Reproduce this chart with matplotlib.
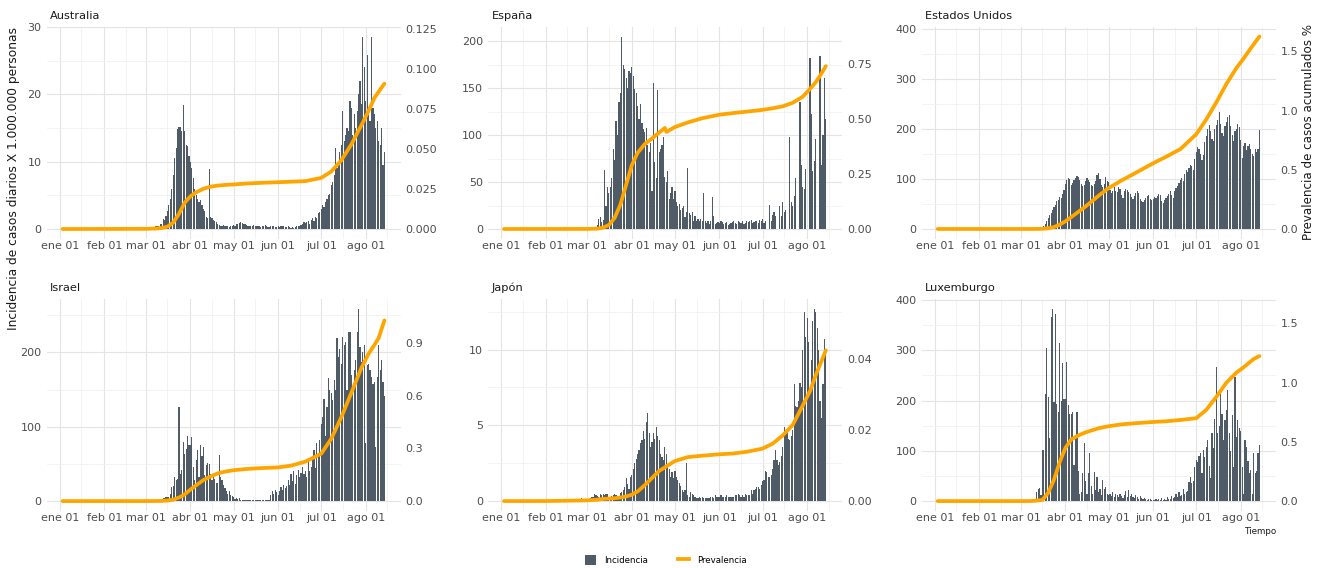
import matplotlib
matplotlib.use("Agg")
import matplotlib.pyplot as plt
import numpy as np
import pandas as pd
from matplotlib.patches import Patch
from matplotlib.lines import Line2D

# ---------------------------------------------------------------- data
# daily incidence (cases per 1.000.000 people), 2020-01-03 .. 2020-08-14
START, END = "2020-01-03", "2020-08-14"

JAN_ZERO = [0] * 29
FEB_ZERO = [0] * 29

inc_australia = (
    JAN_ZERO + FEB_ZERO
    + [0.1, 0.1, 0.1, 0.2, 0.2, 0.3, 0.2, 0.4, 0.5, 0.4, 0.8, 0.7, 1.5, 1.4, 2.0, 2.6, 3.5, 4.5, 6.0, 8.0,
       10.5, 12.0, 14.8, 15.2, 15.2, 14.5, 18.4, 14.5, 12.5, 12.3, 10.8]
    + [10.0, 9.0, 7.6, 6.0, 5.0, 4.5, 4.0, 4.3, 3.6, 3.0, 2.6, 1.8, 1.6, 8.9, 1.8, 1.6, 1.4, 1.2, 1.0, 0.8,
       0.6, 0.5, 0.5, 0.6, 0.4, 0.4, 0.5, 0.3, 0.5, 0.4]
    + [0.6, 0.5, 0.7, 0.8, 0.9, 1.0, 0.9, 0.8, 0.7, 0.6, 0.5, 0.4, 0.5, 0.4, 0.6, 0.5, 0.4, 0.5, 0.4, 0.3,
       0.4, 0.5, 0.6, 0.4, 0.3, 0.3, 0.4, 0.5, 0.4, 0.3, 0.3]
    + [0.4, 0.3, 0.4, 0.5, 0.4, 0.3, 0.3, 0.4, 0.3, 0.2, 0.3, 0.2, 0.3, 0.4, 0.5, 0.5, 0.6, 0.8, 1.0, 0.9,
       1.0, 1.2, 0.8, 1.4, 1.6, 1.2, 1.8, 1.6, 2.4, 2.5]
    + [3.0, 3.5, 3.2, 4.0, 4.5, 5.0, 5.2, 6.5, 7.0, 8.0, 12.0, 9.0, 10.0, 11.5, 12.5, 17.5, 13.0, 14.0, 15.0, 14.5,
       19.0, 18.0, 14.0, 17.0, 15.0, 17.5, 20.0, 22.0, 18.5, 28.5, 24.0]
    + [19.0, 25.9, 17.0, 16.0, 28.5, 18.0, 17.0, 15.0, 16.0, 13.0, 12.5, 15.0, 9.5, 11.5]
)

inc_espana = (
    JAN_ZERO + FEB_ZERO
    + [0.5, 0.6, 0.6, 1, 1.5, 2, 2.5, 4, 11, 13, 7, 10, 63, 25, 45, 38, 45, 54, 85, 73,
       115, 100, 135, 145, 205, 175, 170, 161, 150, 168, 166]
    + [173, 163, 149, 145, 131, 117, 133, 113, 106, 103, 108, 89, 82, 92, 40, 155, 71, 54, 148, 82,
       85, 89, 98, 55, 50, 62, 32, 38, 45, 32]
    + [40, 29, 25, 27, 20, 22, 24, 13, 18, 65, 17, 15, 18, 8, 14, 9, 11, 9, 11, 8,
       38, 8, 6, 9, 5, 8, 34, 14, 5, 6, 7]
    + [6, 8, 7, 5, 6, 7, 4, 5, 6, 7, 8, 6, 5, 9, 7, 6, 8, 5, 6, 9,
       7, 8, 10, 6, 7, 9, 8, 6, 10, 9]
    + [11, 6, 9, 0, 0, 26, 8, 15, 18, 14, 0, 0, 25, 14, 29, 18, 20, 0, 0, 98,
       29, 25, 35, 54, 0, 0, 135, 68, 45, 43, 64]
    + [0, 0, 182, 122, 62, 72, 96, 0, 0, 184, 68, 100, 161, 117]
)

inc_eeuu = (
    JAN_ZERO + FEB_ZERO
    + [0.03, 0.05, 0.1, 0.1, 0.2, 0.3, 0.4, 0.5, 0.6, 0.9, 1.3, 1.7, 2.5, 2.8, 3.5, 4.5, 6, 10, 15, 21,
       28, 32, 38, 44, 48, 56, 58, 64, 62, 70, 78]
    + [90, 97, 101, 100, 88, 92, 97, 101, 106, 103, 98, 90, 85, 88, 95, 101, 97, 93, 88, 85,
       90, 95, 107, 111, 100, 87, 83, 90, 104, 95]
    + [93, 78, 72, 75, 83, 76, 73, 84, 80, 68, 61, 75, 80, 78, 74, 70, 64, 60, 66, 71,
       76, 72, 60, 56, 54, 58, 62, 66, 68, 60, 57]
    + [60, 64, 62, 66, 70, 68, 55, 51, 58, 61, 65, 70, 76, 68, 62, 75, 81, 85, 92, 98,
       101, 96, 110, 117, 114, 121, 128, 125, 118, 140]
    + [154, 164, 160, 150, 138, 148, 174, 185, 200, 207, 195, 180, 175, 200, 207, 217, 233, 210, 192, 185,
       205, 213, 223, 227, 205, 188, 175, 195, 200, 210, 203]
    + [177, 141, 165, 172, 157, 165, 170, 160, 150, 145, 160, 154, 160, 197]
)

inc_israel = (
    JAN_ZERO + FEB_ZERO
    + [0, 0, 0.2, 0.3, 0.5, 0.5, 0.7, 0.8, 1, 1.5, 1.8, 2, 3.6, 4, 5, 6, 6, 10, 19, 20,
       33, 28, 30, 127, 37, 42, 80, 64, 70, 87, 75]
    + [75, 86, 46, 28, 55, 69, 33, 75, 60, 73, 35, 48, 51, 50, 36, 28, 33, 30, 24, 25,
       62, 33, 28, 22, 17, 13, 10, 13, 8, 7]
    + [6, 3, 4, 3, 4, 2, 2, 1.5, 2, 1, 1.5, 1, 2, 1, 1, 1.5, 1, 1.5, 1, 2,
       1, 1.5, 2, 2, 1.5, 1, 8, 13, 9, 15, 12]
    + [8, 13, 19, 15, 22, 17, 20, 28, 22, 37, 27, 40, 23, 35, 42, 32, 38, 46, 36, 40,
       33, 55, 40, 46, 60, 69, 45, 78, 65, 82]
    + [104, 113, 138, 87, 127, 165, 149, 145, 136, 163, 150, 220, 194, 205, 185, 221, 210, 214, 150, 228,
       228, 170, 149, 176, 190, 228, 259, 208, 187, 200, 210]
    + [78, 183, 185, 176, 167, 158, 160, 73, 167, 210, 176, 190, 160, 141]
)

inc_japon = (
    JAN_ZERO
    + [0, 0, 0, 0, 0, 0, 0, 0, 0, 0, 0, 0, 0.05, 0.05, 0.1, 0.1, 0.05, 0.1, 0.1, 0.1,
       0.1, 0.15, 0.1, 0.1, 0.15, 0.2, 0.15, 0.15, 0.15]
    + [0.15, 0.12, 0.2, 0.25, 0.3, 0.45, 0.4, 0.35, 0.25, 0.45, 0.4, 0.45, 0.4, 0.5, 0.45, 0.25, 0.3, 0.35, 0.4, 0.45,
       0.4, 0.35, 0.3, 0.55, 0.6, 0.75, 0.9, 1.5, 1.1, 0.8, 1.6]
    + [1.7, 2.1, 2.5, 2.8, 3.1, 3.4, 3.8, 4.0, 4.6, 4.1, 5.2, 5.8, 4.5, 3.6, 3.9, 4.5, 4.1, 4.9, 4.3, 4.0,
       3.1, 2.9, 2.7, 3.6, 3.1, 2.4, 2.1, 1.6, 1.9, 1.5]
    + [2.0, 1.6, 1.4, 1.2, 1.0, 0.7, 0.6, 0.7, 2.5, 0.4, 0.3, 0.6, 0.5, 0.4, 0.3, 0.2, 0.2, 0.3, 0.2, 0.3,
       0.2, 0.2, 0.2, 0.2, 0.2, 0.3, 0.3, 0.2, 0.4, 0.3, 0.3]
    + [0.3, 0.4, 0.3, 0.3, 0.3, 0.4, 0.3, 0.3, 0.3, 0.3, 0.3, 0.4, 0.4, 0.5, 0.4, 0.3, 0.4, 0.3, 0.5, 0.4,
       0.4, 0.4, 0.7, 0.5, 0.7, 0.8, 0.9, 0.95, 0.8, 1.05]
    + [1.3, 1.4, 2.0, 1.9, 1.6, 1.6, 1.7, 2.1, 2.7, 3.4, 2.7, 2.4, 2.6, 3.0, 3.6, 4.9, 4.5, 4.6, 4.1, 4.0,
       4.3, 4.7, 7.7, 6.3, 6.2, 6.6, 7.8, 7.5, 10.0, 12.5, 10.8]
    + [12.1, 10.5, 7.3, 9.3, 11.9, 12.7, 12.5, 11.4, 10.0, 6.6, 5.5, 7.7, 10.7, 9.8]
)

inc_luxemburgo = (
    JAN_ZERO + FEB_ZERO
    + [0, 0, 0, 0, 0, 0, 0, 1.6, 1.6, 3, 5, 19, 25, 27, 12, 101, 101, 214, 304, 208,
       125, 367, 383, 198, 373, 194, 178, 314, 200, 274, 204]
    + [204, 277, 191, 174, 174, 178, 72, 128, 178, 60, 15, 19, 55, 115, 40, 15, 55, 95, 30, 15,
       58, 22, 48, 18, 25, 12, 42, 25, 28, 15]
    + [12, 15, 10, 18, 8, 14, 12, 9, 15, 10, 7, 12, 20, 8, 22, 10, 15, 9, 6, 12,
       8, 5, 10, 7, 4, 6, 5, 3, 4, 5, 3]
    + [3, 2, 5, 2, 4, 3, 6, 2, 5, 3, 8, 5, 4, 10, 6, 9, 15, 8, 19, 10,
       12, 25, 15, 18, 20, 38, 48, 35, 40, 68]
    + [82, 78, 90, 95, 55, 101, 88, 108, 121, 70, 45, 135, 105, 164, 266, 135, 150, 214, 174, 121,
       161, 181, 221, 135, 100, 171, 68, 247, 128, 161, 145]
    + [140, 68, 15, 121, 108, 80, 55, 62, 15, 95, 55, 60, 95, 111]
)

# cumulative prevalence (% of population), read at these dates
PREV_DATES = ["2020-01-03", "2020-02-01", "2020-03-01", "2020-03-08", "2020-03-12", "2020-03-16",
              "2020-03-20", "2020-03-24", "2020-03-28", "2020-04-01", "2020-04-05", "2020-04-10",
              "2020-04-15", "2020-04-20", "2020-04-24", "2020-04-25", "2020-05-01", "2020-05-10",
              "2020-05-20", "2020-06-01", "2020-06-10", "2020-06-20", "2020-07-01", "2020-07-08",
              "2020-07-15", "2020-07-22", "2020-07-29", "2020-08-03", "2020-08-07", "2020-08-10",
              "2020-08-14"]

prev_australia = [0, 0.00003, 0.0001, 0.0003, 0.0006, 0.0015, 0.004, 0.0095, 0.0165, 0.0205, 0.023, 0.0252,
                  0.0265, 0.0272, 0.0275, 0.0276, 0.0279, 0.0285, 0.0289, 0.0293, 0.0296, 0.0300, 0.032,
                  0.036, 0.043, 0.053, 0.065, 0.074, 0.082, 0.086, 0.091]
prev_espana = [0, 0, 0.0002, 0.0015, 0.006, 0.018, 0.05, 0.11, 0.20, 0.29, 0.345, 0.385, 0.41, 0.437,
               0.458, 0.44, 0.462, 0.483, 0.502, 0.518, 0.525, 0.532, 0.54, 0.547, 0.556, 0.572, 0.60,
               0.635, 0.665, 0.695, 0.738]
prev_eeuu = [0, 0, 0, 0.0002, 0.0005, 0.0015, 0.006, 0.016, 0.037, 0.065, 0.1, 0.145, 0.19, 0.24, 0.28,
             0.29, 0.345, 0.41, 0.475, 0.555, 0.61, 0.675, 0.80, 0.925, 1.07, 1.225, 1.36, 1.44, 1.51,
             1.56, 1.626]
prev_israel = [0, 0, 0, 0.0004, 0.001, 0.003, 0.008, 0.02, 0.038, 0.066, 0.09, 0.12, 0.14, 0.158, 0.166,
               0.168, 0.176, 0.183, 0.188, 0.192, 0.202, 0.225, 0.27, 0.355, 0.478, 0.618, 0.76, 0.84,
               0.89, 0.93, 1.03]
prev_japon = [0, 0.00001, 0.0002, 0.0004, 0.0006, 0.0007, 0.0008, 0.001, 0.0013, 0.0018, 0.0027, 0.0045,
              0.0065, 0.0085, 0.0095, 0.0098, 0.0113, 0.0124, 0.0128, 0.0132, 0.0134, 0.0139, 0.0148,
              0.0162, 0.0185, 0.0215, 0.027, 0.031, 0.0355, 0.0385, 0.0425]
prev_luxemburgo = [0, 0, 0, 0.0005, 0.004, 0.01, 0.07, 0.18, 0.33, 0.45, 0.52, 0.555, 0.58, 0.60, 0.615,
                   0.618, 0.632, 0.648, 0.658, 0.668, 0.674, 0.685, 0.70, 0.77, 0.88, 1.0, 1.085, 1.13,
                   1.17, 1.2, 1.225]

COUNTRIES = ["Australia", "España", "Estados Unidos", "Israel", "Japón", "Luxemburgo"]
INCIDENCE = [inc_australia, inc_espana, inc_eeuu, inc_israel, inc_japon, inc_luxemburgo]
PREVALENCE = [prev_australia, prev_espana, prev_eeuu, prev_israel, prev_japon, prev_luxemburgo]
# left-axis units per 1 % of prevalence (secondary axis scale of each panel)
SCALE = [237, 235, 236.6, 236, 234, 235.6]

LEFT_TICKS = [[0, 10, 20, 30], [0, 50, 100, 150, 200], [0, 100, 200, 300, 400],
              [0, 100, 200], [0, 5, 10], [0, 100, 200, 300, 400]]
RIGHT_TICKS = [[0, 0.025, 0.05, 0.075, 0.1, 0.125], [0, 0.25, 0.5, 0.75], [0, 0.5, 1.0, 1.5],
               [0, 0.3, 0.6, 0.9], [0, 0.02, 0.04], [0, 0.5, 1.0, 1.5]]
RIGHT_LABELS = [["0.000", "0.025", "0.050", "0.075", "0.100", "0.125"], ["0.00", "0.25", "0.50", "0.75"],
                ["0.0", "0.5", "1.0", "1.5"], ["0.0", "0.3", "0.6", "0.9"], ["0.00", "0.02", "0.04"],
                ["0.0", "0.5", "1.0", "1.5"]]

MONTH_TICKS = ["2020-01-01", "2020-02-01", "2020-03-01", "2020-04-01", "2020-05-01", "2020-06-01",
               "2020-07-01", "2020-08-01"]
MONTH_LABELS = ["ene 01", "feb 01", "mar 01", "abr 01", "may 01", "jun 01", "jul 01", "ago 01"]

# ---------------------------------------------------------------- style
BAR_COLOR = "#4f5b67"
LINE_COLOR = "#FFA500"
TEXT_COLOR = "#4d4d4d"
FIG_W, FIG_H = 1323, 568

plt.rcParams["font.family"] = ["DejaVu Sans"]

DATES = pd.date_range(START, END)
PREV_DT = pd.to_datetime(PREV_DATES)
for s in INCIDENCE:
    assert len(s) == len(DATES), len(s)

fig = plt.figure(figsize=(FIG_W / 100, FIG_H / 100), dpi=100)

col_left = [46.5, 487.9, 921.5]
row_top = [26.9, 299.0]
pw, ph = 354, 211.7


def draw_panel(ax, name, inc, prev, scale, lticks, rticks, rlabels):
    inc = np.asarray(inc, dtype=float)
    prev = np.asarray(prev, dtype=float)
    ax.bar(DATES, inc, width=0.82, color=BAR_COLOR, linewidth=0, zorder=2)
    ax.plot(PREV_DT, prev * scale, color=LINE_COLOR, lw=2.7, zorder=3,
            solid_capstyle="round", solid_joinstyle="round")

    top = max(inc.max(), prev.max() * scale)
    ax.set_ylim(-0.05 * top, 1.05 * top)
    span = DATES[-1] - DATES[0]
    ax.set_xlim(DATES[0] - 0.05 * span, DATES[-1] + 0.05 * span)

    ax.set_yticks(lticks)
    ax.set_yticklabels([f"{v:g}" for v in lticks])
    step = lticks[1] - lticks[0]
    ax.set_yticks(np.arange(lticks[0] + step / 2, 1.05 * top, step), minor=True)

    major = pd.to_datetime(MONTH_TICKS)
    ax.set_xticks(major)
    ax.set_xticklabels(MONTH_LABELS)
    ax.set_xticks(major + pd.Timedelta(days=15), minor=True)

    ax.grid(which="major", color="#e4e4e4", lw=0.8)
    ax.grid(which="minor", color="#f1f1f1", lw=0.6)
    ax.set_axisbelow(True)
    for sp in ax.spines.values():
        sp.set_visible(False)
    ax.tick_params(which="both", length=0, labelsize=8, labelcolor=TEXT_COLOR)
    ax.tick_params(axis="y", pad=3.5)
    ax.tick_params(axis="x", pad=2)

    ax2 = ax.twinx()
    lo, hi = ax.get_ylim()
    ax2.set_ylim(lo / scale, hi / scale)
    ax2.set_yticks(rticks)
    ax2.set_yticklabels(rlabels)
    for sp in ax2.spines.values():
        sp.set_visible(False)
    ax2.tick_params(length=0, labelsize=8, labelcolor=TEXT_COLOR, pad=3.5)

    ax.text(3.5 / pw, 1 + 11 / ph, name, transform=ax.transAxes, ha="left", va="center",
            fontsize=8.2, color="#1a1a1a")


for i, name in enumerate(COUNTRIES):
    r, c = divmod(i, 3)
    left = col_left[c] / FIG_W
    bottom = 1 - (row_top[r] + ph) / FIG_H
    ax = fig.add_axes([left, bottom, pw / FIG_W, ph / FIG_H])
    draw_panel(ax, name, INCIDENCE[i], PREVALENCE[i], SCALE[i],
               LEFT_TICKS[i], RIGHT_TICKS[i], RIGHT_LABELS[i])

fig.text(14 / FIG_W, 1 - 179 / FIG_H, "Incidencia de casos diarios X 1.000.000 personas",
         rotation=90, ha="center", va="center", fontsize=8.8, color="#1a1a1a")
fig.text(1308 / FIG_W, 1 - 131.5 / FIG_H, "Prevalencia de casos acumulados %",
         rotation=90, ha="center", va="center", fontsize=8.6, color="#1a1a1a")
fig.text(1276 / FIG_W, 1 - 531 / FIG_H, "Tiempo", ha="right", va="center",
         fontsize=6.3, color="#1a1a1a")

handles = [Patch(facecolor=BAR_COLOR, edgecolor="none"),
           Line2D([0], [0], color=LINE_COLOR, lw=2.7)]
fig.legend(handles, ["Incidencia", "Prevalencia"], loc="center",
           bbox_to_anchor=(666 / FIG_W, 1 - 560 / FIG_H), ncol=2, frameon=False,
           fontsize=6.2, handlelength=1.3, handleheight=1.4, handletextpad=1.0,
           columnspacing=3.4)

fig.savefig("out.png", dpi=100, facecolor="white")
